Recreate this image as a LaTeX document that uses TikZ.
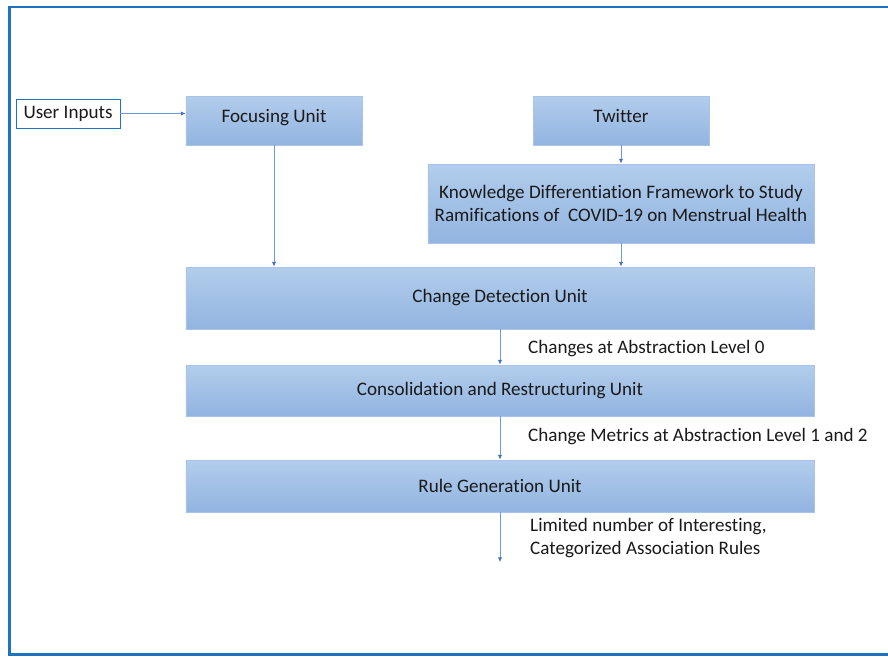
\documentclass[tikz,border=0pt]{standalone}
\usepackage{fontspec}
\setmainfont{Carlito}[RawFeature={-liga}]
\usetikzlibrary{positioning,calc,arrows.meta}
\definecolor{Frame}{HTML}{1E73BE}
\definecolor{BoxTop}{HTML}{B2CDEC}
\definecolor{BoxBottom}{HTML}{92B4E0}
\definecolor{BoxEdge}{HTML}{A9C4E8}
\definecolor{Link}{HTML}{6F9AD8}
\definecolor{Tip}{HTML}{4472C4}
\definecolor{Dark}{HTML}{1A1A1A}

\tikzset{
	unit/.style={
		draw=BoxEdge,
		line width=0.8pt,
		top color=BoxTop,
		bottom color=BoxBottom,
		text=Dark,
		align=center,
		inner sep=2pt,
		font=\fontsize{16.3}{19.5}\selectfont
	},
	inputbox/.style={
		draw=Frame,
		line width=0.8pt,
		fill=white,
		text=Dark,
		font=\fontsize{16.3}{19.5}\selectfont
	},
	flow/.style={
		draw=Link,
		line width=0.6pt,
		-{Latex[length=1.4mm,width=1.3mm,color=Tip]}
	},
	note/.style={
		text=Dark,
		align=left,
		inner sep=0pt,
		font=\fontsize{16.3}{19}\selectfont
	}
}

\begin{document}
\begin{tikzpicture}[x=0.03cm,y=-0.03cm]
	\useasboundingbox (0,0) rectangle (888,658);
	% outer frame, open on the right
	\draw[Frame,line width=2.2pt] (895,7) -- (9.5,7) -- (9.5,654.5) -- (895,654.5);

	% input side
	\node[inputbox,minimum width=3.12cm,minimum height=0.87cm] (inputs) at (68,113.5) {User Inputs};
	\node[unit,minimum width=5.28cm,minimum height=1.47cm] (focus) at (274,120.5) {\raisebox{8pt}{Focusing Unit}};
	\node[unit,minimum width=5.28cm,minimum height=1.47cm] (twitter) at (621,120.5) {\raisebox{8pt}{Twitter}};
	\node[unit,minimum width=11.58cm,minimum height=2.37cm] (kdf) at (621,203.5)
		{Knowledge Differentiation Framework to Study\\Ramifications of\ \ COVID-19 on Menstrual Health};

	% main units
	\node[unit,minimum width=18.84cm,minimum height=1.86cm] (detect) at (500,298) {Change Detection Unit};
	\node[unit,minimum width=18.84cm,minimum height=1.53cm] (consol) at (500,390.5) {Consolidation and Restructuring Unit};
	\node[unit,minimum width=18.84cm,minimum height=1.56cm] (rulegen) at (500,486) {Rule Generation Unit};
	\coordinate (out) at (500,562);

	% labels
	\node[note,anchor=west] (lvl0) at (528,349) {Changes at Abstraction Level 0};
	\node[note,anchor=west] (lvl12) at (528,437) {Change Metrics at Abstraction Level 1 and 2};
	\node[note,anchor=west] (rules) at (530,538) {Limited number of Interesting,\\Categorized Association Rules};

	% connectors
	\draw[flow] (inputs.east) -- (inputs.east -| focus.west);
	\draw[flow] (focus.south) -- (focus.south |- detect.north);
	\draw[flow] (twitter) -- (kdf);
	\draw[flow] (kdf.south) -- (kdf.south |- detect.north);
	\draw[flow] (detect) -- (consol);
	\draw[flow] (consol) -- (rulegen);
	\draw[flow] (rulegen) -- (out);
\end{tikzpicture}
\end{document}
